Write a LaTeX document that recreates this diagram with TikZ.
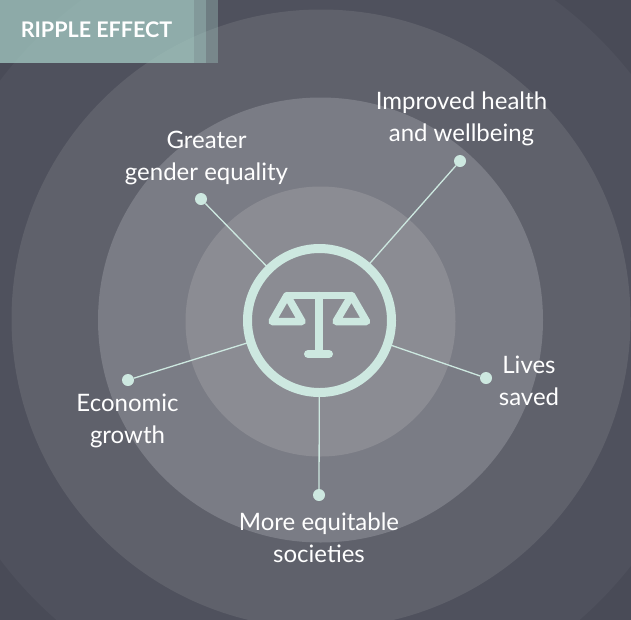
\documentclass[tikz,border=0pt]{standalone}
\usepackage{fontspec}
\setmainfont{Lato}
\definecolor{bgdark}{HTML}{494B57}
\definecolor{ringa}{HTML}{4F515D}
\definecolor{ringb}{HTML}{5F616B}
\definecolor{ringc}{HTML}{7A7C85}
\definecolor{ringd}{HTML}{8B8C93}
\definecolor{mint}{HTML}{CDE8E0}
\definecolor{tabgreen}{HTML}{A8D0C8}
\begin{document}
\begin{tikzpicture}[
        x=1pt, y=-1pt,
        every node/.style={align=center, font=\fontsize{24}{32}\selectfont, text=white},
        ripple/.style={circle, minimum size=#1, inner sep=0pt, outer sep=0pt},
        tab/.style={fill=tabgreen, fill opacity=.35, draw=none},
        dot/.style={circle, fill=mint, minimum size=12pt, inner sep=0pt},
        spoke/.style={draw=mint, line width=1.3pt},
        icon/.style={draw=mint, line width=7.5pt, line cap=round, line join=round}
        ]
        \useasboundingbox (0,0) rectangle (631,619);
        \fill[bgdark] (-3,-3) rectangle (634,622);
        \begin{scope}
        \clip (-3,-3) rectangle (634,622);
        \node[ripple=796pt, fill=ringa] (ripplea) at (318,320) {};
        \node[ripple=619pt, fill=ringb] (rippleb) at (321,319) {};
        \node[ripple=445pt, fill=ringc] (ripplec) at (320.5,320) {};
        \node[ripple=270pt, fill=ringd] (rippled) at (320.5,321.5) {};
        \end{scope}
        % header tab
        \fill[tab] (0,0) rectangle (218,63);
        \fill[tab] (0,0) rectangle (206,63);
        \fill[tab] (0,0) rectangle (194,63);
        \node[font=\fontsize{21.5}{24}\bfseries\selectfont] (title) at (96.5,30) {RIPPLE EFFECT};
        % centre
        \node[circle, draw=mint, line width=9pt, minimum size=144pt, inner sep=0pt, outer sep=0pt] (scales) at (319.5,320.5) {};
        \draw[icon] (287,295.5) -- (351.5,295.5);
        \draw[icon] (319,295.5) -- (319,354);
        \draw[icon, line width=8pt] (308,354) -- (329,354);
        \draw[icon] (287,295.5) -- (272,321.5) -- (302,321.5) -- cycle;
        \draw[icon] (351.5,295.5) -- (336,321.5) -- (366.5,321.5) -- cycle;
        % dots
        \node[dot] (gender) at (201,199) {};
        \node[dot] (health) at (460,161) {};
        \node[dot] (lives) at (486,378) {};
        \node[dot] (equity) at (319,495) {};
        \node[dot] (growth) at (128,380) {};
        \draw[spoke] (gender) -- (scales);
        \draw[spoke] (health) -- (scales);
        \draw[spoke] (lives) -- (scales);
        \draw[spoke] (equity) -- (scales);
        \draw[spoke] (growth) -- (scales);
        % labels
        \node (genderlabel) at (206.5,157.5) {Greater \\ gender equality};
        \node (healthlabel) at (461.5,119) {Improved health \\ and wellbeing};
        \node (liveslabel) at (529,380.5) {Lives \\ saved};
        \node (equitylabel) at (319,538) {More equitable \\ societies};
        \node (growthlabel) at (127.5,421) {Economic \\ growth};
    \end{tikzpicture}
\end{document}
